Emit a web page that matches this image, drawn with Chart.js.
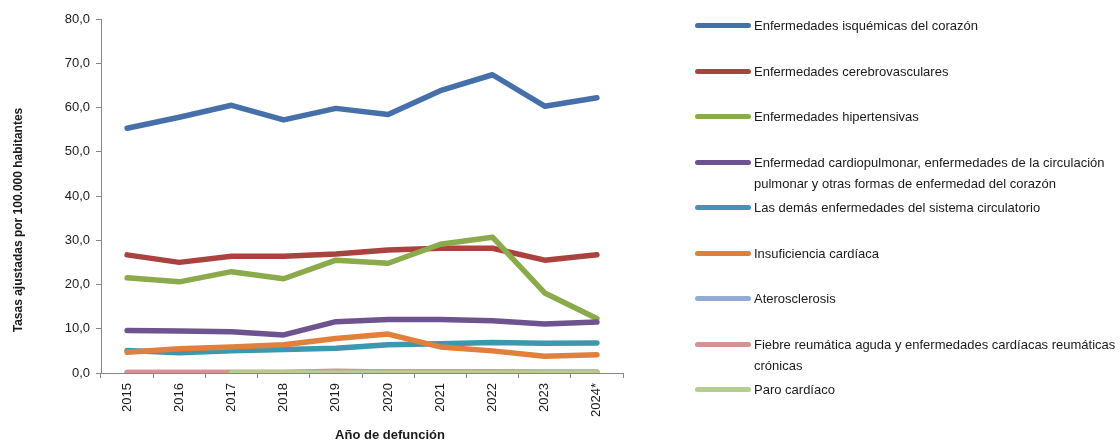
<!DOCTYPE html>
<html lang="es">
<head>
<meta charset="utf-8">
<title>Tasas ajustadas - enfermedades del sistema circulatorio</title>
<script src="https://cdn.jsdelivr.net/npm/chart.js@4.4.1/dist/chart.umd.min.js"></script>
<style>
    html, body {
        margin: 0;
        padding: 0;
        background: #ffffff;
    }
    #wrap {
        position: relative;
        width: 1120px;
        height: 442px;
    }
    #legend {
        position: absolute;
        left: 695px;
        top: 15px;
        font-family: 'Liberation Sans', Arial, sans-serif;
        font-size: 13px;
        line-height: 21px;
        color: #1a1a1a;
        white-space: nowrap;
    }
    .legend-item {
        display: flex;
        align-items: flex-start;
        height: 45.5px;
    }
    .legend-swatch {
        width: 56px;
        height: 5px;
        border-radius: 3px;
        margin-top: 8px;
        margin-right: 3px;
        flex: none;
    }
</style>
</head>
<body>
<div id="wrap">
    <canvas id="circ-chart" width="1120" height="442"></canvas>
    <div id="legend"></div>
</div>
<script>
// Categories (año de defunción)
const years = ['2015', '2016', '2017', '2018', '2019', '2020', '2021', '2022', '2023', '2024*'];

// Series values (tasas ajustadas por 100.000 habitantes)
const isquemicas = [55.3, 57.8, 60.5, 57.2, 59.8, 58.4, 63.8, 67.4, 60.3, 62.2];
const cerebrovasculares = [26.7, 25.0, 26.4, 26.4, 26.9, 27.8, 28.2, 28.2, 25.5, 26.7];
const hipertensivas = [21.5, 20.6, 22.9, 21.3, 25.5, 24.8, 29.1, 30.7, 18.1, 12.3];
const cardiopulmonar = [9.6, 9.5, 9.3, 8.6, 11.6, 12.1, 12.1, 11.8, 11.1, 11.5];
const demasCirculatorio = [5.1, 4.6, 5.0, 5.3, 5.6, 6.4, 6.6, 6.9, 6.7, 6.8];
const insuficiencia = [4.7, 5.5, 5.9, 6.4, 7.8, 8.8, 5.9, 5.0, 3.8, 4.1];
const aterosclerosis = [0.1, 0.1, 0.1, 0.1, 0.2, 0.2, 0.2, 0.2, 0.2, 0.2];
const fiebreReumatica = [0.1, 0.1, 0.1, 0.1, 0.4, 0.2, 0.2, 0.2, 0.1, 0.1];
const paroCardiaco = [null, null, 0.0, 0.0, 0.0, 0.0, 0.0, 0.0, 0.0, 0.0];

// Legend labels (line breaks as in the original)
const seriesLabels = [
    ['Enfermedades isquémicas del corazón'],
    ['Enfermedades cerebrovasculares'],
    ['Enfermedades hipertensivas'],
    ['Enfermedad cardiopulmonar, enfermedades de la circulación', 'pulmonar y otras formas de enfermedad del corazón'],
    ['Las demás enfermedades del sistema circulatorio'],
    ['Insuficiencia cardíaca'],
    ['Aterosclerosis'],
    ['Fiebre reumática aguda y enfermedades cardíacas reumáticas', 'crónicas'],
    ['Paro cardíaco']
];
const seriesColors = ['#4570a9', '#aa433f', '#8aaa4b', '#6e548e', '#3d97af', '#e0803a', '#94abd4', '#d69293', '#b5ce92'];

// Axis titles
const xTitle = 'Año de defunción';
const yTitle = 'Tasas ajustadas por 100.000 habitantes';

// Y axis ticks
const yMin = 0;
const yMax = 80;
const yStep = 10;

document.addEventListener('DOMContentLoaded', () => {
    const seriesData = [isquemicas, cerebrovasculares, hipertensivas, cardiopulmonar,
        demasCirculatorio, insuficiencia, aterosclerosis, fiebreReumatica, paroCardiaco];

    const fontFamily = "'Liberation Sans', Arial, sans-serif";
    const axisColor = '#868686';
    const textColor = '#1a1a1a';

    const datasets = seriesData.map((values, i) => ({
        label: seriesLabels[i].join(' '),
        data: values,
        borderColor: seriesColors[i],
        backgroundColor: seriesColors[i],
        borderWidth: 5.5,
        pointRadius: 0,
        pointHoverRadius: 0,
        tension: 0,
        spanGaps: false,
        borderCapStyle: 'round',
        borderJoinStyle: 'round',
        // later series drawn on top, like the original
        order: seriesData.length - i
    }));

    // Axis titles sit a bit off-centre in the original, so draw them here
    const axisTitles = {
        id: 'axisTitles',
        afterDraw(chart) {
            const { ctx, chartArea } = chart;
            ctx.save();
            ctx.fillStyle = textColor;
            ctx.textAlign = 'center';
            ctx.textBaseline = 'middle';

            ctx.font = `bold 13px ${fontFamily}`;
            ctx.fillText(xTitle, (chartArea.left + chartArea.right) / 2 + 28, chart.height - 7);

            ctx.font = `bold 12px ${fontFamily}`;
            ctx.translate(19, (chartArea.top + chartArea.bottom) / 2 + 24);
            ctx.rotate(-Math.PI / 2);
            ctx.fillText(yTitle, 0, 0);
            ctx.restore();
        }
    };

    const ctx = document.getElementById('circ-chart').getContext('2d');
    new Chart(ctx, {
        type: 'line',
        data: {
            labels: years,
            datasets: datasets
        },
        options: {
            responsive: false,
            animation: false,
            layout: {
                padding: { left: 6, right: 497, top: 19, bottom: 0 }
            },
            plugins: {
                legend: { display: false },
                tooltip: { enabled: false }
            },
            scales: {
                x: {
                    offset: true,
                    grid: {
                        offset: true,
                        drawOnChartArea: false,
                        tickLength: 5,
                        color: axisColor
                    },
                    border: { color: axisColor, width: 1 },
                    ticks: {
                        minRotation: 90,
                        maxRotation: 90,
                        padding: 5,
                        color: textColor,
                        font: { family: fontFamily, size: 13 }
                    },
                    afterFit: scale => { scale.height = 69; }
                },
                y: {
                    min: yMin,
                    max: yMax,
                    grid: {
                        drawOnChartArea: false,
                        tickLength: 5,
                        color: axisColor
                    },
                    border: { color: axisColor, width: 1 },
                    ticks: {
                        stepSize: yStep,
                        padding: 6,
                        color: textColor,
                        font: { family: fontFamily, size: 13 },
                        callback: function (value) {
                            return value.toFixed(1).replace('.', ',');
                        }
                    },
                    afterFit: scale => { scale.width = 95; }
                }
            }
        },
        plugins: [axisTitles]
    });

    // Build the legend on the right, with wrapped labels
    const legend = document.getElementById('legend');
    seriesLabels.forEach((lines, i) => {
        const item = document.createElement('div');
        item.className = 'legend-item';

        const swatch = document.createElement('span');
        swatch.className = 'legend-swatch';
        swatch.style.background = seriesColors[i];

        const text = document.createElement('div');
        lines.forEach((line, j) => {
            if (j > 0) text.appendChild(document.createElement('br'));
            text.appendChild(document.createTextNode(line));
        });

        item.appendChild(swatch);
        item.appendChild(text);
        legend.appendChild(item);
    });
});
</script>
</body>
</html>
